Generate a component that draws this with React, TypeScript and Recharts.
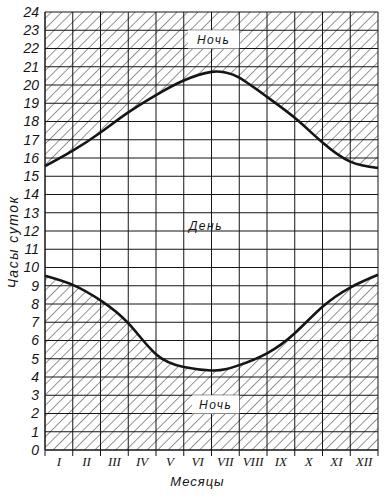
import React from "react";
import {
  ComposedChart, Area, Line, XAxis, YAxis, CartesianGrid, ReferenceArea, ReferenceDot,
} from "recharts";

// positions along the year, in months from 1 Jan
const monthPos = [0, 1, 2, 3, 4, 5, 6, 6.5, 7, 8, 9, 10, 11, 12];
// sunset (evening) hour
const sunset = [15.55, 16.4, 17.4, 18.5, 19.45, 20.25, 20.72, 20.68, 20.4, 19.35, 18.2, 16.85, 15.8, 15.45];
// sunrise (morning) hour
const sunrise = [9.55, 9.05, 8.2, 6.95, 5.25, 4.55, 4.36, 4.42, 4.65, 5.3, 6.4, 7.85, 8.9, 9.6];

const romanMonths = ["I", "II", "III", "IV", "V", "VI", "VII", "VIII", "IX", "X", "XI", "XII"];
const monthCenters = [0.5, 1.5, 2.5, 3.5, 4.5, 5.5, 6.5, 7.5, 8.5, 9.5, 10.5, 11.5];
const monthEdges = [0, 1, 2, 3, 4, 5, 6, 7, 8, 9, 10, 11, 12];
const hourTicks = Array.from({ length: 25 }, (_, i) => i);

const data = monthPos.map((m, i) => ({
  m,
  sunset: sunset[i],
  sunrise: sunrise[i],
  night1: [sunset[i], 24],
  night2: [0, sunrise[i]],
}));

const INK = "#151515";
const HAND = "'Liberation Sans Narrow', 'Liberation Sans', sans-serif";

function YTitle(props: any) {
  const vb = props.viewBox || { x: 0, y: 12, width: 45, height: 438 };
  const x = 13;
  const y = vb.y + vb.height / 2 + 11;
  return (
    <text
      x={x} y={y} transform={`rotate(-90, ${x}, ${y})`} textAnchor="middle" dominantBaseline="central"
      fill={INK} fontSize={14} fontStyle="italic" fontFamily={HAND} letterSpacing={1.5}
    >
      Часы суток
    </text>
  );
}

export default function App() {
  return (
    <div style={{ position: "absolute", left: 0, top: 0, background: "#fff" }}>
      <ComposedChart width={391} height={498} data={data} margin={{ top: 12, right: 13, left: 0, bottom: 0 }}>
        <defs>
          <pattern id="hatch" width="7.4" height="7.4" patternUnits="userSpaceOnUse" patternTransform="rotate(45)">
            <line x1="0" y1="0" x2="0" y2="7.4" stroke={INK} strokeWidth={0.9} />
          </pattern>
        </defs>

        <Area xAxisId="grid" type="natural" dataKey="night1" stroke="none" fill="url(#hatch)" fillOpacity={1} isAnimationActive={false} />
        <Area xAxisId="grid" type="natural" dataKey="night2" stroke="none" fill="url(#hatch)" fillOpacity={1} isAnimationActive={false} />

        <CartesianGrid xAxisId="grid" stroke={INK} strokeWidth={1} />

        <XAxis
          xAxisId="grid" dataKey="m" type="number" domain={[0, 12]} ticks={monthEdges}
          tickFormatter={() => ""} tickSize={6} height={6} axisLine={{ stroke: INK }} tickLine={{ stroke: INK }}
        />
        <XAxis
          xAxisId="lab" dataKey="m" type="number" domain={[0, 12]} ticks={monthCenters}
          tickFormatter={(v: number) => romanMonths[Math.floor(v)]}
          axisLine={false} tickLine={false} tickSize={0} tickMargin={0} height={42}
          tick={{ fill: INK, fontSize: 13, fontStyle: "italic", fontFamily: "'Liberation Serif', serif", dy: 1 }}
          label={{
            value: "Месяцы", position: "insideBottom", offset: 12, fill: INK, fontSize: 13,
            fontStyle: "italic", fontFamily: HAND, letterSpacing: 1, dx: -14,
          }}
        />
        <YAxis
          type="number" domain={[0, 24]} ticks={hourTicks} interval={0} width={45}
          tickLine={false} tickSize={4} tickMargin={2} axisLine={{ stroke: INK }}
          tick={{ fill: INK, fontSize: 14, fontStyle: "italic", fontFamily: HAND }}
          label={{ content: (p: any) => <YTitle {...p} /> }}
        />

        <ReferenceArea
          xAxisId="grid" x1={5.15} x2={7} y1={22} y2={23} fill="#fff" fillOpacity={1} stroke="none"
          label={{ value: "Ночь", position: "center", fill: INK, fontSize: 12, fontStyle: "italic", fontFamily: HAND, letterSpacing: 1.5 }}
        />
        <ReferenceArea
          xAxisId="grid" x1={5.3} x2={7} y1={2} y2={3} fill="#fff" fillOpacity={1} stroke="none"
          label={{ value: "Ночь", position: "center", fill: INK, fontSize: 12, fontStyle: "italic", fontFamily: HAND, letterSpacing: 1.5 }}
        />
        <ReferenceDot
          xAxisId="grid" x={5.8} y={12.3} r={0} fill="none" stroke="none"
          label={{ value: "День", position: "center", fill: INK, fontSize: 12, fontStyle: "italic", fontFamily: HAND, letterSpacing: 1.5 }}
        />

        <Line xAxisId="grid" type="natural" dataKey="sunset" stroke={INK} strokeWidth={2.6} dot={false} isAnimationActive={false} />
        <Line xAxisId="grid" type="natural" dataKey="sunrise" stroke={INK} strokeWidth={2.6} dot={false} isAnimationActive={false} />
      </ComposedChart>
    </div>
  );
}
